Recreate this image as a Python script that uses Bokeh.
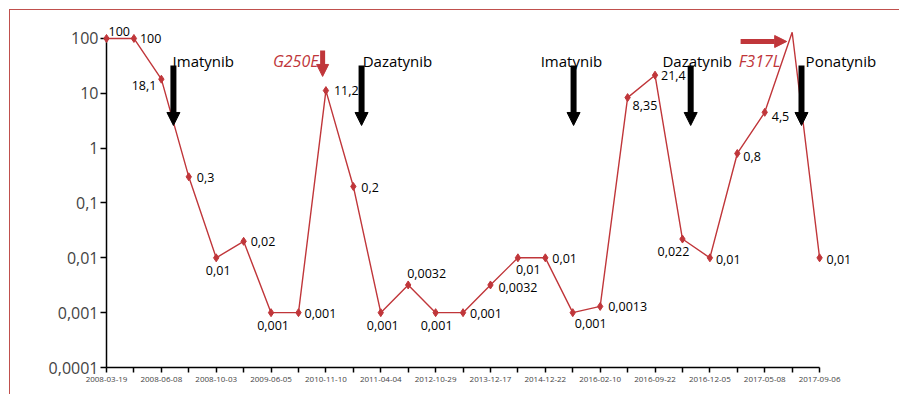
from bokeh.plotting import figure
from bokeh.models import (ColumnDataSource, Range1d, FixedTicker, CustomJSTickFormatter,
                          Label, Arrow, NormalHead)
from bokeh.core.properties import value
from bokeh.embed import file_html
from bokeh.resources import INLINE

# ---------------- data ----------------
sample_index = list(range(27))
bcr_abl = [100, 100, 18.1, 0.3, 0.01, 0.02, 0.001, 0.001, 11.2, 0.2, 0.001, 0.0032,
           0.001, 0.001, 0.0032, 0.01, 0.01, 0.001, 0.0013, 8.35, 21.4, 0.022, 0.01,
           0.8, 4.5, 130, 0.01]
value_labels = ["100", "100", "18,1", "0,3", "0,01", "0,02", "0,001", "0,001", "11,2",
                "0,2", "0,001", "0,0032", "0,001", "0,001", "0,0032", "0,01", "0,01",
                "0,001", "0,0013", "8,35", "21,4", "0,022", "0,01", "0,8", "4,5", "",
                "0,01"]
has_marker = [True] * 25 + [False, True]
date_labels = ["2008-03-19", "", "2008-06-08", "", "2008-10-03", "", "2009-06-05", "",
               "2010-11-10", "", "2011-04-04", "", "2012-10-29", "", "2013-12-17", "",
               "2014-12-22", "", "2016-02-10", "", "2016-09-22", "", "2016-12-05", "",
               "2017-05-08", "", "2017-09-06"]
y_ticks = [0.0001, 0.001, 0.01, 0.1, 1, 10, 100]

therapy_names = ["Imatynib", "Dazatynib", "Imatynib", "Dazatynib", "Ponatynib"]
therapy_arrow_x = [2.44, 9.30, 17.03, 21.30, 25.34]
therapy_text_x = [2.41, 9.34, 15.83, 20.27, 25.49]
mutation_names = ["G250E", "F317L"]

# ---------------- layout of value labels (pixels) ----------------
label_dx = [2, 6, -5, 8, 2, 7, 2, 6, 8, 8, 2, -1, 1, 7, 8, -2, 7, 2, 8, 5, 6, -9, 6, 6, 7, 0, 7]
label_dy = [-7, 0, 6, 1, 13, 0, 13, 1, 0, 1, 13, -11, 13, 1, 3, 12, 1, 11, 0, 8, 0, 12, 2, 3, 4, 0, 2]
label_align = ["left", "left", "right", "left", "center", "left", "center", "left", "left",
               "left", "center", "left", "center", "left", "left", "left", "left", "left",
               "left", "left", "left", "center", "left", "left", "left", "left", "left"]

RED = "#c0363a"
BORDER = "#c0504d"
FONT = "Open Sans"

src = ColumnDataSource(dict(x=sample_index, y=bcr_abl, lab=value_labels,
                            dx=label_dx, dy=label_dy, al=label_align))
msrc = ColumnDataSource(dict(x=[x for x, m in zip(sample_index, has_marker) if m],
                             y=[y for y, m in zip(bcr_abl, has_marker) if m]))

p = figure(width=890, height=385, output_backend="svg", toolbar_location=None,
           y_axis_type="log",
           x_range=Range1d(0, 28.95), y_range=Range1d(1e-4, 10 ** 2.2),
           min_border_left=96, min_border_right=0, min_border_top=17, min_border_bottom=28)
p.styles = {"margin-left": "9px", "margin-top": "9px"}
p.stylesheets = [":host { border-top: 1px solid " + BORDER + "; border-left: 1px solid "
                 + BORDER + "; border-right: none; border-bottom: none; }"]
p.outline_line_color = None
p.grid.visible = False
p.background_fill_color = "white"
p.border_fill_color = "white"

p.line("x", "y", source=src, line_color=RED, line_width=1.4)
p.scatter("x", "y", source=msrc, marker="diamond", size=8, fill_color=RED,
          line_color=RED, level="overlay")
p.text("x", "y", text="lab", source=src, x_offset="dx", y_offset="dy", text_align="al",
       text_baseline="middle", text_font=value(FONT), text_font_size="12.5px",
       text_color="black", level="overlay")

# axes
xa = p.xaxis[0]
xa.ticker = FixedTicker(ticks=sample_index)
xa.formatter = CustomJSTickFormatter(args=dict(labels=date_labels),
                                     code="return labels[Math.round(tick)] || '';")
xa.bounds = (0, 26)
xa.major_label_text_font = FONT
xa.major_label_text_font_size = "8px"
xa.major_tick_out = 5
xa.major_tick_in = 0
xa.minor_tick_out = 0
xa.major_label_standoff = 4
xa.axis_line_width = 1.5
xa.major_tick_line_width = 1.5

ya = p.yaxis[0]
ya.ticker = FixedTicker(ticks=y_ticks)
ya.formatter = CustomJSTickFormatter(code="return tick.toString().replace('.', ',');")
ya.bounds = (1e-4, 100)
ya.major_label_text_font = FONT
ya.major_label_text_font_size = "16px"
ya.major_tick_out = 6
ya.major_tick_in = 0
ya.minor_tick_out = 0
ya.major_label_standoff = 2
ya.axis_line_width = 1.5
ya.major_tick_line_width = 1.5

# therapy annotations
for name, ax, tx in zip(therapy_names, therapy_arrow_x, therapy_text_x):
    p.add_layout(Label(x=tx, y=38.1, text=name, text_font=FONT, text_font_size="15px",
                       text_color="black", text_baseline="alphabetic", text_align="left"))
    p.add_layout(Arrow(x_start=ax, y_start=32.2, x_end=ax, y_end=2.59, line_width=6,
                       line_color="black",
                       end=NormalHead(size=13, fill_color="black", line_color="black",
                                      line_width=1)))

# mutation annotations
p.add_layout(Label(x=7.73, y=38.1, text=mutation_names[0], text_font=FONT,
                   text_font_size="16px", text_font_style="italic", text_color=RED,
                   text_baseline="alphabetic", text_align="right"))
p.add_layout(Arrow(x_start=7.88, y_start=60.4, x_end=7.88, y_end=20.3, line_width=5,
                   line_color=RED,
                   end=NormalHead(size=12, fill_color=RED, line_color=RED, line_width=1)))
p.add_layout(Label(x=23.05, y=38.1, text=mutation_names[1], text_font=FONT,
                   text_font_size="16px", text_font_style="italic", text_color=RED,
                   text_baseline="alphabetic", text_align="left"))
p.add_layout(Arrow(x_start=23.12, y_start=88.1, x_end=24.80, y_end=88.1, line_width=5,
                   line_color=RED,
                   end=NormalHead(size=12, fill_color=RED, line_color=RED, line_width=1)))

open("out.html", "w").write(file_html(p, INLINE))
